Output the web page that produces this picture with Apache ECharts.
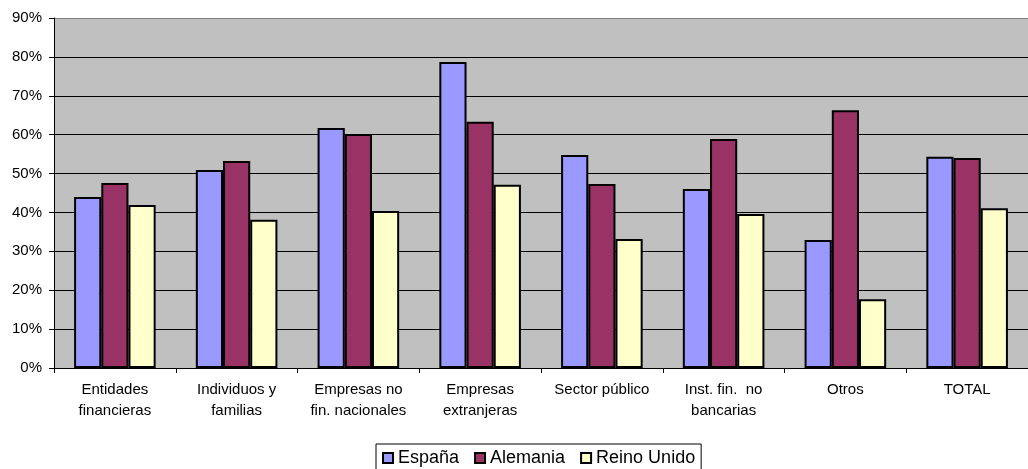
<!DOCTYPE html>
<html>
<head>
<meta charset="utf-8">
<script src="https://cdn.jsdelivr.net/npm/echarts@6/dist/echarts.min.js"></script>
<style>html,body{margin:0;padding:0;background:#fff}#c{width:1028px;height:469px}</style>
</head>
<body>
<div id="c"></div>
<script>
const categories = ["Entidades\nfinancieras", "Individuos y\nfamilias", "Empresas no\nfin. nacionales", "Empresas\nextranjeras", "Sector público", "Inst. fin.  no\nbancarias", "Otros", "TOTAL"];
const espana = [44.0, 50.9, 61.7, 78.7, 54.8, 46.0, 32.9, 54.3];
const alemania = [47.6, 53.2, 60.2, 63.3, 47.3, 58.9, 66.3, 54.0];
const reinoUnido = [41.9, 38.1, 40.4, 47.1, 33.2, 39.6, 17.7, 41.1];
const seriesNames = ["España", "Alemania", "Reino Unido"];
const colors = ["#9999FF", "#993366", "#FFFFCC"];

const font = "Liberation Sans, Arial, sans-serif";
const chart = echarts.init(document.getElementById('c'));
const data = [espana, alemania, reinoUnido];
chart.setOption({
  animation: false,
  backgroundColor: '#fff',
  grid: { left: 54, right: 0, top: 18, bottom: 101, backgroundColor: '#C0C0C0', show: true, borderWidth: 0 },
  legend: {
    top: 444, left: 376,
    data: seriesNames,
    itemWidth: 10, itemHeight: 10, itemGap: 15,
    borderColor: '#000', borderWidth: 1, padding: [5, 6, 8, 6],
    textStyle: { fontFamily: font, fontSize: 18, color: '#000' },
    icon: 'rect',
    itemStyle: { borderColor: '#000', borderWidth: 2 }
  },
  xAxis: {
    type: 'category', data: categories,
    axisLine: { lineStyle: { color: '#000', width: 1 } },
    axisTick: { show: true, length: 5, interval: 0, lineStyle: { color: '#000' } },
    axisLabel: { fontFamily: font, fontSize: 15, color: '#000', lineHeight: 21, margin: 11, interval: 0 }
  },
  yAxis: {
    type: 'value', min: 0, max: 90, interval: 10,
    axisLine: { show: true, lineStyle: { color: '#000', width: 1 } },
    axisTick: { show: true, length: 5, lineStyle: { color: '#000' } },
    axisLabel: { fontFamily: font, fontSize: 15, color: '#000', formatter: '{value}%', margin: 12 },
    splitLine: { show: true, lineStyle: { color: ['#000','#000','#000','#000','#000','#000','#000','#000','#000','#808080'], width: 1 } }
  },
  series: seriesNames.map((n, i) => ({
    name: n, type: 'bar', data: data[i],
    barGap: '0%', barCategoryGap: '33%',
    itemStyle: { color: colors[i], borderColor: '#000', borderWidth: 2 }
  }))
});
</script>
</body>
</html>
